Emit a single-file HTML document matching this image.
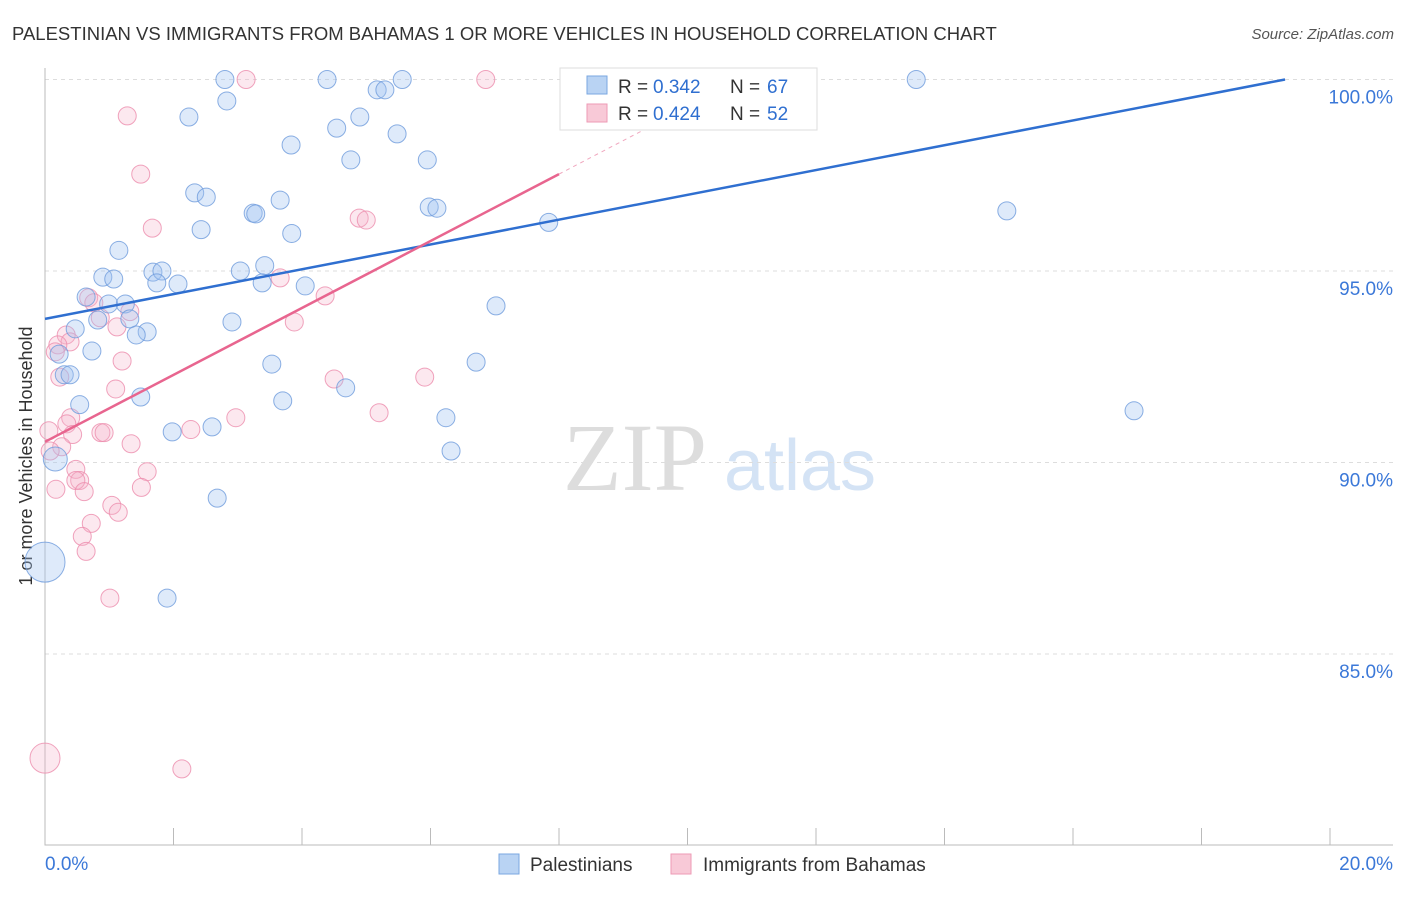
<!DOCTYPE html>
<html><head><meta charset="utf-8"><style>
body{margin:0;background:#fff;font-family:"Liberation Sans",sans-serif;}
</style></head><body>
<svg id="chart" width="1406" height="892" xmlns="http://www.w3.org/2000/svg" style="font-family:'Liberation Sans',sans-serif">
<text x="12" y="40" font-size="18.5" fill="#333">PALESTINIAN VS IMMIGRANTS FROM BAHAMAS 1 OR MORE VEHICLES IN HOUSEHOLD CORRELATION CHART</text>
<text x="1394" y="39" font-size="15" fill="#555" text-anchor="end" font-style="italic">Source: ZipAtlas.com</text>
<text x="27" y="456" font-size="18" fill="#333" text-anchor="middle" dominant-baseline="middle" transform="rotate(-90 27 456)">1 or more Vehicles in Household</text>
<g><text x="635" y="490" font-size="96" fill="#ddd" font-family="Liberation Serif" text-anchor="middle">ZIP</text><text x="800" y="490" font-size="72" fill="#d4e3f5" text-anchor="middle">atlas</text></g>
<g id="grid"></g><g id="axes"></g><g id="pts"></g><g id="trends"></g>
<g>
<rect x="560" y="68" width="257" height="62" fill="#fff" stroke="#ddd"/>
<rect x="587" y="76" width="20" height="18" fill="#b9d3f3" stroke="#7aa7e0"/>
<text y="93" font-size="19" fill="#333"><tspan x="618">R =</tspan><tspan x="653" fill="#2f6fd0">0.342</tspan><tspan x="730">N =</tspan><tspan x="767" fill="#2f6fd0">67</tspan></text>
<rect x="587" y="104" width="20" height="18" fill="#f8c9d7" stroke="#ee9ab5"/>
<text y="120" font-size="19" fill="#333"><tspan x="618">R =</tspan><tspan x="653" fill="#2f6fd0">0.424</tspan><tspan x="730">N =</tspan><tspan x="767" fill="#2f6fd0">52</tspan></text>
</g>
<g>
<rect x="499" y="854" width="20" height="20" fill="#b9d3f3" stroke="#7aa7e0"/>
<text x="530" y="871" font-size="19" fill="#333">Palestinians</text>
<rect x="671" y="854" width="20" height="20" fill="#f8c9d7" stroke="#ee9ab5"/>
<text x="703" y="871" font-size="19" fill="#333">Immigrants from Bahamas</text>
</g>
</svg>
<script>
const blueX=[2.80,4.39,5.56,11.80,13.56,2.83,5.17,5.29,2.24,4.90,4.54,5.48,3.83,4.76,5.95,2.33,2.51,3.66,3.24,3.28,5.98,6.10,14.97,7.84,2.43,3.84,1.15,3.42,3.04,1.68,1.82,0.90,1.07,1.74,2.07,3.38,4.05,0.64,0.99,1.25,7.02,0.82,1.32,0.47,1.59,1.42,2.91,0.73,0.22,3.53,6.71,0.30,0.39,4.68,1.49,3.70,0.54,6.24,16.95,2.60,1.98,6.32,0.16,2.68,1.90,0.0];
const blueY=[100,100,100,100,100,99.44,99.73,99.73,99.02,99.02,98.73,98.58,98.29,97.90,97.90,97.04,96.93,96.85,96.51,96.49,96.67,96.64,96.57,96.27,96.08,95.98,95.54,95.14,95.0,94.97,95.0,94.84,94.79,94.69,94.66,94.69,94.61,94.32,94.14,94.14,94.09,93.72,93.75,93.49,93.41,93.33,93.67,92.91,92.83,92.57,92.62,92.29,92.29,91.95,91.71,91.61,91.51,91.17,91.35,90.93,90.80,90.30,90.09,89.07,86.46,87.40];
const blueR=[9,9,9,9,9,9,9,9,9,9,9,9,9,9,9,9,9,9,9,9,9,9,9,9,9,9,9,9,9,9,9,9,9,9,9,9,9,9,9,9,9,9,9,9,9,9,9,9,9,9,9,9,9,9,9,9,9,9,9,9,9,9,12,9,9,20];
const pinkX=[3.13,6.86,1.28,1.49,1.67,4.89,5.00,3.66,4.36,3.88,0.68,0.76,0.86,1.32,1.12,0.33,0.39,0.20,0.16,1.20,0.23,4.50,5.91,1.10,5.20,2.97,0.40,0.34,0.06,2.27,0.87,0.43,0.92,1.34,0.26,1.59,0.48,0.54,0.48,0.17,0.61,1.50,1.04,1.14,0.72,0.58,0.64,1.01,2.13,0.0,0.08];
const pinkY=[100,100,99.05,97.53,96.12,96.38,96.33,94.82,94.35,93.67,94.30,94.17,93.78,93.94,93.54,93.33,93.15,93.07,92.89,92.65,92.23,92.18,92.23,91.92,91.30,91.17,91.17,91.01,90.83,90.86,90.78,90.73,90.78,90.49,90.41,89.76,89.82,89.53,89.53,89.30,89.24,89.35,88.88,88.70,88.41,88.07,87.68,86.46,82.00,82.28,90.3];
const pinkR=[9,9,9,9,9,9,9,9,9,9,9,9,9,9,9,9,9,9,9,9,9,9,9,9,9,9,9,9,9,9,9,9,9,9,9,9,9,9,9,9,9,9,9,9,9,9,9,9,9,15,9];
const blueTrend=[93.75,100];const blueTrendX=[0,19.3];
const pinkTrend=[90.54,97.53,99.28];const pinkTrendX=[0,8,10];
const yTicks=[100,95,90,85];const yTickLabels=["100.0%","95.0%","90.0%","85.0%"];
const xTicks=[0,2,4,6,8,10,12,14,16,18,20];
const NS="http://www.w3.org/2000/svg";
const sx=v=>45+v*64.25, sy=v=>79.5+(100-v)*38.3;
function mk(p,t,a){const e=document.createElementNS(NS,t);for(const k in a)e.setAttribute(k,a[k]);document.getElementById(p).appendChild(e);return e;}
yTicks.forEach((t,i)=>{
 const g=mk('grid','line',{x1:45,x2:1393,y1:sy(t),y2:sy(t),stroke:'#ddd','stroke-dasharray':'4 4'});
 
 
 const l=mk('axes','text',{x:1393,y:sy(t)+24,'font-size':19,fill:'#3b78d8','text-anchor':'end'});l.textContent=yTickLabels[i];
 
 
});
const ax=mk('axes','path',{d:'M45 68V845H1393',stroke:'#bbb',fill:'none'});


xTicks.forEach(t=>{const k=mk('axes','line',{x1:sx(t),x2:sx(t),y1:828,y2:845,stroke:'#bbb'});
 
 });
[[0,"0.0%","start",45],[20,"20.0%","end",1393]].forEach(a=>{const l=mk('axes','text',{x:a[3],y:870,'font-size':19,fill:'#3b78d8','text-anchor':a[2]});l.textContent=a[1];
 
 });
pinkX.forEach((x,i)=>{const c=mk('pts','circle',{cx:sx(x),cy:sy(pinkY[i]),r:pinkR[i],fill:'rgba(246,180,202,0.3)',stroke:'rgba(236,140,172,0.8)','stroke-width':1});
 
 });
blueX.forEach((x,i)=>{const c=mk('pts','circle',{cx:sx(x),cy:sy(blueY[i]),r:blueR[i],fill:'rgba(160,196,240,0.35)',stroke:'rgba(110,155,220,0.8)','stroke-width':1});
 
 });
const bt=mk('trends','line',{x1:sx(blueTrendX[0]),y1:sy(blueTrend[0]),x2:sx(blueTrendX[1]),y2:sy(blueTrend[1]),stroke:'#2f6fd0','stroke-width':2.5});


const pt=mk('trends','line',{x1:sx(pinkTrendX[0]),y1:sy(pinkTrend[0]),x2:sx(pinkTrendX[1]),y2:sy(pinkTrend[1]),stroke:'#e8658f','stroke-width':2.5});


const pd=mk('trends','line',{x1:sx(pinkTrendX[1]),y1:sy(pinkTrend[1]),x2:sx(pinkTrendX[2]),y2:sy(pinkTrend[2]),stroke:'#f0a8bf','stroke-width':1,'stroke-dasharray':'4 4'});


</script>
</body></html>
